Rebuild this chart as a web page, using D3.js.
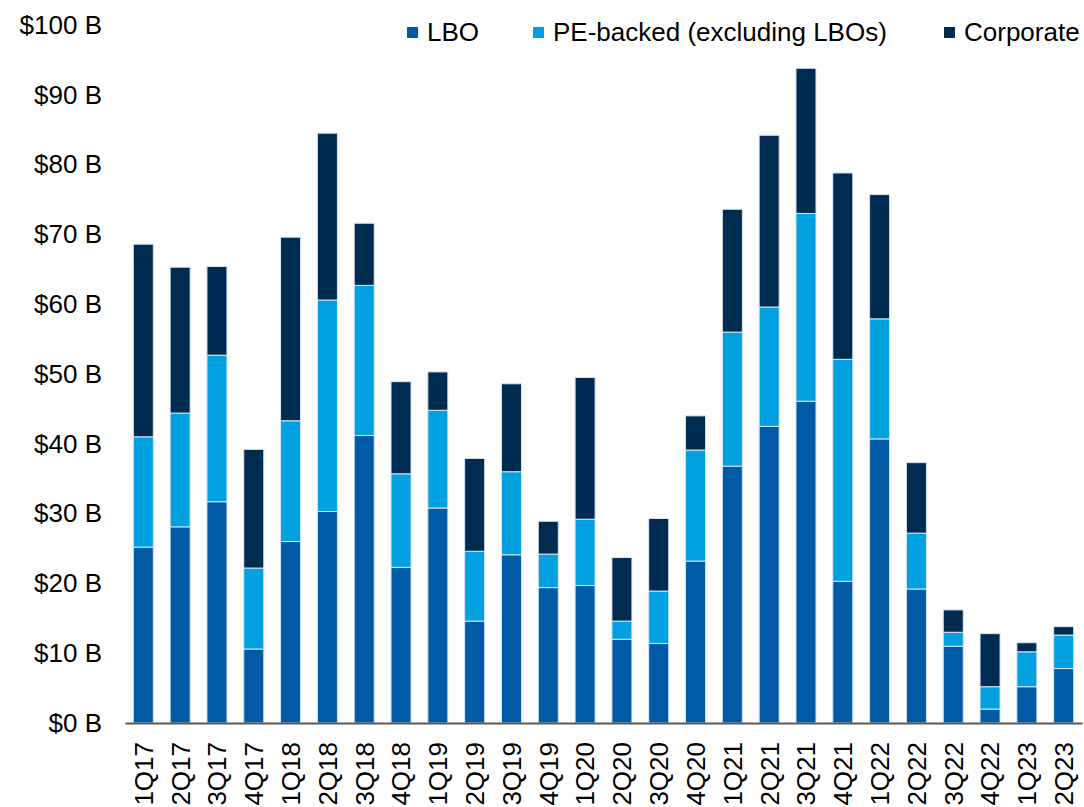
<!DOCTYPE html>
<html>
<head>
<meta charset="utf-8">
<script src="https://cdn.jsdelivr.net/npm/d3@7"></script>
<style>
  html, body { margin: 0; padding: 0; background: #fff; }
  svg { display: block; font-family: Arial, "Liberation Sans", sans-serif; }
</style>
</head>
<body>
<svg id="chart" width="1084" height="807"></svg>
<script>
const categories = ["1Q17","2Q17","3Q17","4Q17","1Q18","2Q18","3Q18","4Q18","1Q19","2Q19","3Q19","4Q19","1Q20","2Q20","3Q20","4Q20","1Q21","2Q21","3Q21","4Q21","1Q22","2Q22","3Q22","4Q22","1Q23","2Q23"];
const lbo       = [25.2,28.1,31.7,10.6,26.0,30.3,41.2,22.3,30.8,14.6,24.1,19.4,19.7,12.0,11.4,23.2,36.8,42.5,46.1,20.3,40.7,19.2,11.0,2.0,5.2,7.8];
const peBacked  = [15.8,16.3,21.0,11.6,17.3,30.3,21.5,13.4,14.0,10.0,11.9,4.8,9.5,2.6,7.5,15.9,19.2,17.1,26.9,31.8,17.2,8.0,2.0,3.2,5.0,4.8];
const corporate = [27.6,20.9,12.7,17.0,26.3,23.9,8.9,13.2,5.5,13.3,12.6,4.7,20.3,9.1,10.4,4.9,17.6,24.6,20.8,26.7,17.8,10.1,3.2,7.6,1.3,1.2];
const seriesNames = ["LBO","PE-backed (excluding LBOs)","Corporate"];
const yTicks = [0,10,20,30,40,50,60,70,80,90,100];

const colors = {"LBO":"#005AA5","PE-backed (excluding LBOs)":"#00A0E1","Corporate":"#002B50"};

const rows = categories.map((c,i)=>({cat:c, "LBO":lbo[i], "PE-backed (excluding LBOs)":peBacked[i], "Corporate":corporate[i]}));
const stacked = d3.stack().keys(seriesNames)(rows);

const svg = d3.select("#chart");
const x = d3.scaleBand().domain(categories).range([125,1082]).paddingInner(0.4565).paddingOuter(0.226);
const y = d3.scaleLinear().domain([0,100]).range([723,25]);

// bars
svg.append("g").selectAll("g").data(stacked).join("g")
  .attr("fill", d=>colors[d.key])
  .selectAll("rect").data(d=>d).join("rect")
  .attr("x", d=>x(d.data.cat))
  .attr("width", x.bandwidth())
  .attr("y", d=>y(d[1]))
  .attr("height", d=>y(d[0])-y(d[1]))
  .attr("stroke","#d8e6f2")
  .attr("stroke-width",1);

// y axis
const yAxis = svg.append("g").attr("transform","translate(125,0)")
  .call(d3.axisLeft(y).tickValues(yTicks).tickSize(0).tickPadding(23).tickFormat(d=>"$"+d+" B"));
yAxis.select(".domain").remove();
yAxis.selectAll("text").attr("font-size",26).attr("fill","#000").attr("font-family","Arial, 'Liberation Sans', sans-serif");

// x axis
const xAxis = svg.append("g").attr("transform","translate(0,723)")
  .call(d3.axisBottom(x).tickSize(0).tickPadding(0));
xAxis.select(".domain").attr("stroke","#595959").attr("stroke-width",2);
xAxis.selectAll("text")
  .attr("font-size",26).attr("fill","#000").attr("font-family","Arial, 'Liberation Sans', sans-serif")
  .attr("text-anchor","end")
  .attr("transform","rotate(-90)")
  .attr("x",-19).attr("y",0).attr("dy","0.36em");

// legend
const legendX = [407, 533, 944];
const lg = svg.append("g").selectAll("g").data(seriesNames).join("g")
  .attr("transform",(d,i)=>`translate(${legendX[i]},0)`);
lg.append("rect").attr("x",0).attr("y",27).attr("width",11).attr("height",11).attr("fill",d=>colors[d]);
lg.append("text").attr("x",20).attr("y",41).attr("font-size",26).attr("fill","#000").text(d=>d);
</script>
</body>
</html>
